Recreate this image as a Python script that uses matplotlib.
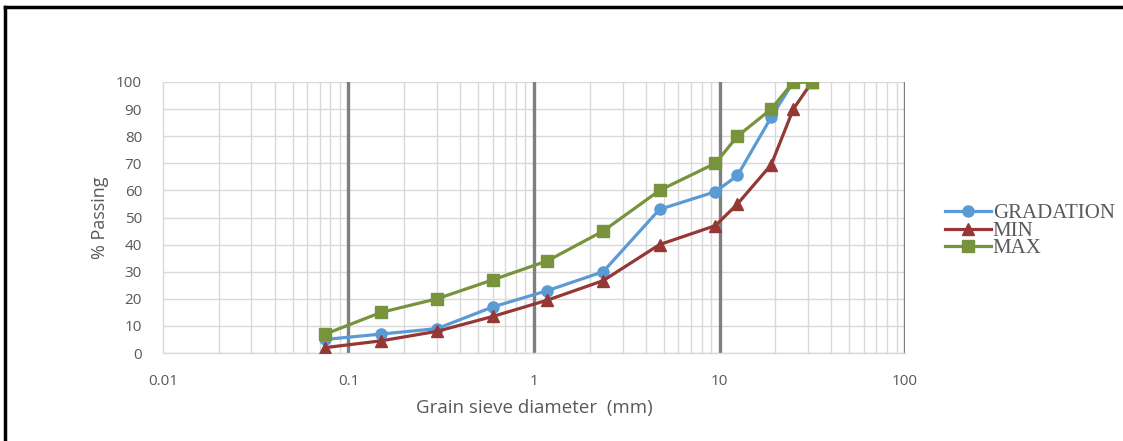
import matplotlib
matplotlib.use("Agg")
from matplotlib import pyplot as plt
from matplotlib.lines import Line2D
from matplotlib.ticker import FixedLocator, NullFormatter

# sieve sizes (mm) and % passing
sieve = [0.075, 0.15, 0.3, 0.6, 1.18, 2.36, 4.75, 9.5, 12.5, 19, 25, 31.5]
gradation = [5, 7, 9, 17, 23, 30, 53, 59.5, 65.5, 87, 100, 100]
spec_min = [2, 4.5, 8, 13.5, 19.5, 26.7, 40, 47, 55, 69.5, 90, 100]
spec_max = [7, 15, 20, 27, 34, 45, 60, 70, 80, 90, 100, 100]

series = [
    ("GRADATION", gradation, "#5B9BD5", "o", 8),
    ("MIN", spec_min, "#953735", "^", 8),
    ("MAX", spec_max, "#77933C", "s", 8),
]

x_major = [0.01, 0.1, 1, 10, 100]
x_labels = ["0.01", "0.1", "1", "10", "100"]
y_ticks = list(range(0, 101, 10))

plt.rcParams["font.family"] = ["Open Sans", "DejaVu Sans"]

fig = plt.figure(figsize=(11.23, 4.41), dpi=100)
ax = fig.add_axes([0.1451, 0.1995, 0.6608, 0.8141 - 0.1995])

for name, vals, color, marker, ms in series:
    ax.plot(sieve, vals, color=color, marker=marker, markersize=ms,
            linewidth=2.3, label=name, zorder=3)

ax.set_xscale("log")
ax.set_xlim(0.01, 100)
ax.set_ylim(0, 100)

minor = [m * d for d in (0.01, 0.1, 1, 10) for m in range(2, 10)]
ax.xaxis.set_major_locator(FixedLocator(x_major))
ax.xaxis.set_minor_locator(FixedLocator(minor))
ax.xaxis.set_minor_formatter(NullFormatter())
ax.set_xticks(x_major)
ax.set_xticklabels(x_labels)
ax.set_yticks(y_ticks)

ax.grid(True, which="minor", axis="x", color="#d9d9d9", linewidth=1.0)
ax.grid(True, which="major", axis="y", color="#d9d9d9", linewidth=1.0)
for xv in x_major[1:]:
    ax.axvline(xv, color="#7f7f7f", linewidth=2.4, zorder=1)
ax.set_axisbelow(True)

for side in ("top", "right"):
    ax.spines[side].set_visible(False)
for side in ("left", "bottom"):
    ax.spines[side].set_color("#d9d9d9")
    ax.spines[side].set_linewidth(1.0)

ax.tick_params(axis="both", which="both", length=0, labelsize=11, labelcolor="#595959")
ax.tick_params(axis="x", pad=15)
ax.tick_params(axis="y", pad=15)

ax.set_xlabel("Grain sieve diameter  (mm)", fontsize=13.5, color="#595959", labelpad=7)
ax.set_ylabel("% Passing", fontsize=13, color="#595959", labelpad=5)

leg = fig.legend(loc="center left", bbox_to_anchor=(0.832, 0.476), frameon=False,
                 handlelength=2.2, handletextpad=0.1, labelspacing=-0.1,
                 borderpad=0.0,
                 prop={"family": "Liberation Serif", "size": 15})
for t in leg.get_texts():
    t.set_color("#595959")

# black frame at top and left of the image
fig.add_artist(Line2D([0.0045, 1.0], [0.9835, 0.9835], color="black",
                      linewidth=2.5, transform=fig.transFigure))
fig.add_artist(Line2D([0.0045, 0.0045], [0.0, 0.9835], color="black",
                      linewidth=2.5, transform=fig.transFigure))

fig.savefig("out.png", dpi=100)
